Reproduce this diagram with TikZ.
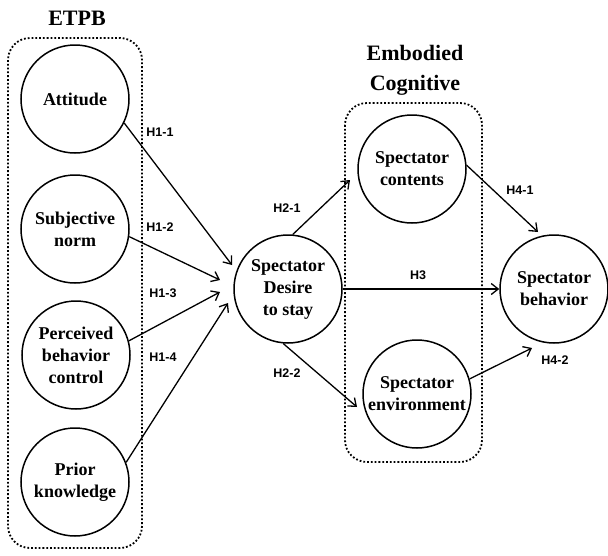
\documentclass[tikz,border=0pt]{standalone}
\usepackage{fontspec}
\setmainfont{Liberation Serif}
\newfontfamily\hyfont{Liberation Sans}
\usetikzlibrary{arrows.meta}
\tikzset{var/.style={circle,draw,line width=1.5pt,minimum size=108pt,inner sep=0pt,align=center,font=\fontsize{18}{22}\selectfont\bfseries}}
\tikzset{grp/.style={draw,dotted,line width=1.8pt,rounded corners=22pt}}
\tikzset{hyp/.style={font=\fontsize{12.5}{14}\selectfont\hyfont\bfseries}}
\tikzset{ttl/.style={font=\fontsize{22}{30}\selectfont\bfseries,align=center}}
\tikzset{arr/.style={-{Straight Barb[length=7pt,width=11pt]},line width=1.3pt}}

\begin{document}
\begin{tikzpicture}[x=1pt,y=-1pt]
    \useasboundingbox (0,0) rectangle (608,555);
    \draw[grp] (8,38) rectangle (142,548);
    \draw[grp] (345,103) rectangle (482,462);
    \node[ttl] (etpb)at (77,18) {ETPB};
    \node[ttl] (emb)at (415,70) {Embodied\\Cognitive};

    \node[var] (att)at (75,99) {Attitude};
    \node[var] (sub)at (75,229) {Subjective\\norm};
    \node[var] (pbc)at (76,355) {Perceived\\behavior\\control};
    \node[var] (pk)at (75,482) {Prior\\knowledge};
    \node[var] (des)at (288,289) {Spectator\\Desire\\to stay};
    \node[var] (con)at (412,169) {Spectator\\contents};
    \node[var] (env)at (417,394) {Spectator\\environment};
    \node[var] (beh)at (554,289) {Spectator\\behavior};

    \coordinate (t1)at (232,265);
    \coordinate (t2)at (220,280);
    \coordinate (t3)at (220,292);
    \coordinate (t4)at (228,303);
    \coordinate (c1)at (350,180);
    \coordinate (c2)at (357,407);
    \coordinate (b1)at (538,232);
    \coordinate (b2)at (532,348);

    \draw [arr] (att.-26) -- (t1);
    \draw [arr] (sub.-8) -- (t2);
    \draw [arr] (pbc.15) -- (t3);
    \draw [arr] (pk.21) -- (t4);
    \draw [arr] (des.85) -- (c1);
    \draw [arr] (des.-95) -- (c2);
    \draw [arr] (des.east) -- (beh.west);
    \draw [arr] (con.4) -- (b1);
    \draw [arr] (env.16) -- (b2);

    \node[hyp] (h11)at (160,132) {H1-1};
    \node[hyp] (h12)at (160,227) {H1-2};
    \node[hyp] (h13)at (163,293) {H1-3};
    \node[hyp] (h14)at (163,357) {H1-4};
    \node[hyp] (h21)at (287,208) {H2-1};
    \node[hyp] (h22)at (287,373) {H2-2};
    \node[hyp] (h3)at (418,275) {H3};
    \node[hyp] (h41)at (520,190) {H4-1};
    \node[hyp] (h42)at (555,360) {H4-2};
\end{tikzpicture}
\end{document}
